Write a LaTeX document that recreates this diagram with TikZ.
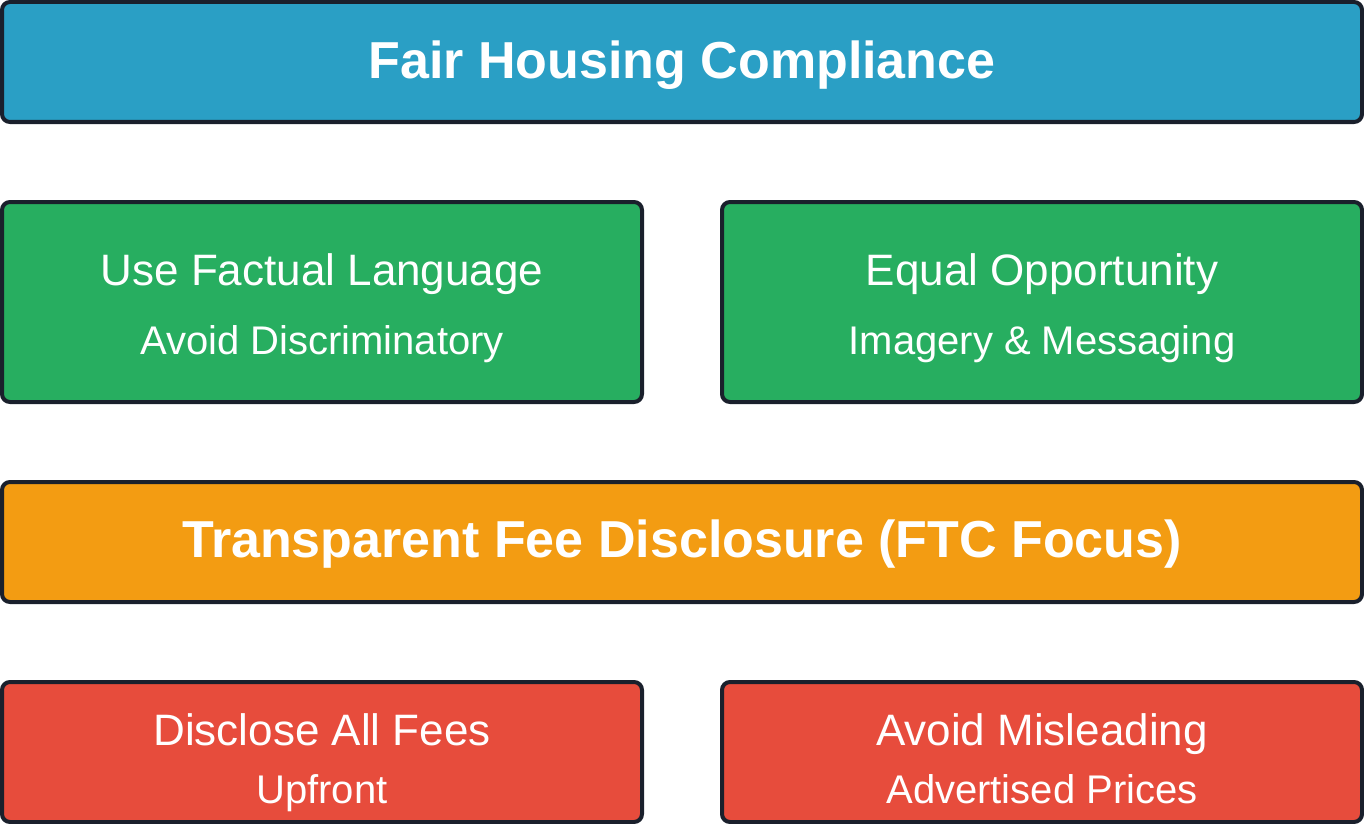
\documentclass[tikz,border=0pt]{standalone}
\usepackage{fontspec}
\setmainfont{Liberation Sans}
\usepackage{xcolor}
\usetikzlibrary{positioning}

\definecolor{fhblue}{RGB}{42,159,197}
\definecolor{fhgreen}{RGB}{39,174,96}
\definecolor{ftcorange}{RGB}{243,156,18}
\definecolor{ftcred}{RGB}{231,76,60}
\definecolor{edge}{RGB}{26,32,44}

\tikzset{
  panel/.style={draw=edge, line width=3pt, rounded corners=6pt, inner sep=0pt},
  widepanel/.style={panel, minimum width=1020pt, minimum height=90pt},
  halfpanel/.style={panel, minimum width=480pt, minimum height=150pt},
  lowpanel/.style={panel, minimum width=480pt, minimum height=105pt},
  headtext/.style={text=white, anchor=base, font=\fontsize{39}{46}\selectfont\bfseries},
  maintext/.style={text=white, anchor=base, font=\fontsize{33}{40}\selectfont},
  subtext/.style={text=white, anchor=base, font=\fontsize{30}{36}\selectfont}
}

\begin{document}
\begin{tikzpicture}[x=0.75pt, y=-0.75pt]
\useasboundingbox (0,0) rectangle (1364,824);

% Fair housing
\node[widepanel, fill=fhblue] (fair) at (682,62) {};
\node[headtext] (fairtxt) at (682,79) {Fair Housing Compliance};

\node[halfpanel, fill=fhgreen] (lang) at (322,302) {};
\node[maintext] (langtxt) at (322,285) {Use Factual Language};
\node[subtext] (langsub) at (322,354) {Avoid Discriminatory};

\node[halfpanel, fill=fhgreen] (equal) at (1042,302) {};
\node[maintext] (equaltxt) at (1042,285) {Equal Opportunity};
\node[subtext] (equalsub) at (1042,354) {Imagery \& Messaging};

% Fee disclosure
\node[widepanel, fill=ftcorange] (fees) at (682,542) {};
\node[headtext] (feestxt) at (682,557) {Transparent Fee Disclosure (FTC Focus)};

\node[lowpanel, fill=ftcred] (upfront) at (322,752) {};
\node[maintext] (upfronttxt) at (322,745) {Disclose All Fees};
\node[subtext] (upfrontsub) at (322,803) {Upfront};

\node[lowpanel, fill=ftcred] (prices) at (1042,752) {};
\node[maintext] (pricestxt) at (1042,745) {Avoid Misleading};
\node[subtext] (pricessub) at (1042,803) {Advertised Prices};
\end{tikzpicture}
\end{document}
